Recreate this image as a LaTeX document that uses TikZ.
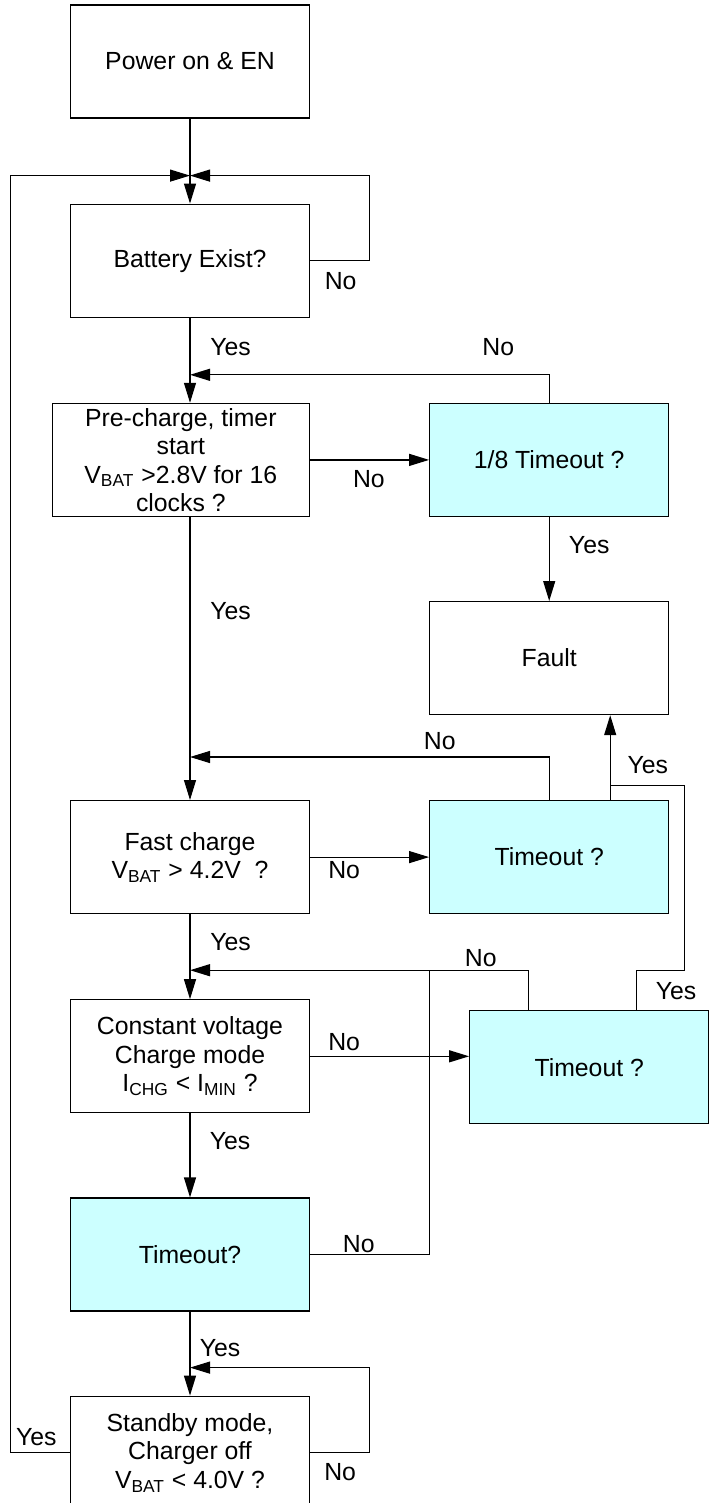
\documentclass[tikz,border=0pt]{standalone}
\usepackage{fontspec}
\setmainfont{Liberation Sans}
\usetikzlibrary{arrows.meta,positioning,calc}
\definecolor{ink}{HTML}{000000}
\definecolor{cyanfill}{HTML}{CCFFFF}
\tikzset{
  box/.style={
    draw=ink, fill=white, line width=0.6pt,
    minimum width=119.5pt, minimum height=56.5pt,
    inner xsep=2pt, inner ysep=0pt,
    align=center, font=\fontsize{12.4pt}{14.25pt}\selectfont
  },
  qbox/.style={box, fill=cyanfill},
  arrow/.style={-{Triangle[length=10pt,width=6pt]}, line width=0.6pt, draw=ink},
  wire/.style={line width=0.6pt, draw=ink},
  lbl/.style={inner sep=0pt, font=\fontsize{12.4pt}{14.25pt}\selectfont}
}

\begin{document}
\begin{tikzpicture}
  \useasboundingbox (0,0) rectangle (354.5pt,-751.5pt);
  % main column
  \node[box] (power) at (95pt,-30.75pt) {Power on \& EN};
  \node[box, below=42.5pt of power] (battery) {Battery Exist?};
  \node[box, minimum width=128.7pt, below=42.5pt of battery.south east, anchor=north east] (pre) {Pre-charge, timer\\start\\V\textsubscript{BAT} >2.8V for 16\\clocks ?};
  \node[box, below=141.5pt of pre.south east, anchor=north east] (fast) {Fast charge\\V\textsubscript{BAT} > 4.2V\ \ ?};
  \node[box, below=42.5pt of fast] (cv) {Constant voltage\\Charge mode\\I\textsubscript{CHG} < I\textsubscript{MIN} ?};
  \node[qbox, below=42pt of cv] (to4) {Timeout?};
  \node[box, below=42pt of to4] (standby) {Standby mode,\\Charger off\\V\textsubscript{BAT} < 4.0V ?};
  % right column
  \node[qbox, right=59.5pt of pre] (t18) {1/8 Timeout ?};
  \node[box, below=42pt of t18] (fault) {Fault};
  \node[qbox, right=59.5pt of fast] (to2) {Timeout ?};
  \node[qbox, right=79.5pt of cv, yshift=-5.5pt] (to3) {Timeout ?};

  % junctions
  \coordinate[above=14pt of battery.north] (j1);
  \coordinate (j2) at ([yshift=14pt]battery.south |- pre.north);
  \coordinate[above=21.5pt of fast.north] (j3);
  \coordinate[above=14.5pt of cv.north] (j4);
  \coordinate[above=14pt of standby.north] (j5);
  \coordinate (yj) at ([xshift=30.5pt,yshift=7.25pt]to2.north);

  % connectors
  \draw[arrow] (power) -- (battery);
  \draw[arrow] (battery.east) -- ++(29.75pt,0) |- (j1);
  \draw[arrow] (standby.west) -- ++(-29.65pt,0) |- (j1);
  \draw[arrow] (battery) -- (battery.south |- pre.north);
  \draw[arrow] (t18.north) |- (j2);
  \draw[arrow] (pre) -- (t18);
  \draw[arrow] (t18) -- (fault);
  \draw[arrow] (fast.north |- pre.south) -- (fast);
  \draw[arrow] (to2.north) |- (j3);
  \draw[arrow] ([xshift=30.5pt]to2.north) -- ([xshift=30.5pt]to2.north |- fault.south);
  \draw[arrow] (fast) -- (to2);
  \draw[arrow] (fast) -- (cv);
  \draw[arrow] ([xshift=29.5pt]to3.north west) |- (j4);
  \draw[wire] ([xshift=83.8pt]to3.north west) |- ([xshift=37.3pt]yj |- j4) |- (yj);
  \draw[arrow] (cv) -- (cv -| to3.west);
  \draw[arrow] (cv) -- (to4);
  \draw[wire] (to4.east) -| (to2.west |- j4);
  \draw[arrow] (to4) -- (standby);
  \draw[arrow] (standby.east) -- ++(29.75pt,0) |- (j5);

  % labels
  \node[lbl] (nobat) at ([shift={(15.25pt,-10.25pt)}]battery.east) {No};
  \node[lbl] (yesbat) at ([shift={(20.25pt,-14.5pt)}]battery.south) {Yes};
  \node[lbl] (not18) at ([shift={(-25.5pt,28pt)}]t18.north) {No};
  \node[lbl] (nopre) at ([shift={(29.4pt,-9.6pt)}]pre.east) {No};
  \node[lbl] (yest18) at ([shift={(20pt,-13.85pt)}]t18.south) {Yes};
  \node[lbl] (yespre) at ([shift={(20.3pt,94.5pt)}]fast.north) {Yes};
  \node[lbl] (noto2) at ([shift={(-54.7pt,29.5pt)}]to2.north) {No};
  \node[lbl] (yesto2) at ([shift={(49.3pt,17.65pt)}]to2.north) {Yes};
  \node[lbl] (nofast) at ([shift={(17pt,-6.5pt)}]fast.east) {No};
  \node[lbl] (yesfast) at ([shift={(20.3pt,-13.7pt)}]fast.south) {Yes};
  \node[lbl] (noto3) at ([shift={(5.8pt,26pt)}]to3.north west) {No};
  \node[lbl] (yesto3) at ([shift={(103.5pt,9.5pt)}]to3.north west) {Yes};
  \node[lbl] (nocv) at ([shift={(17pt,7.25pt)}]cv.east) {No};
  \node[lbl] (yescv) at ([shift={(20pt,-14pt)}]cv.south) {Yes};
  \node[lbl] (noto4) at ([shift={(24.35pt,5.25pt)}]to4.east) {No};
  \node[lbl] (yesto4) at ([shift={(15pt,-18pt)}]to4.south) {Yes};
  \node[lbl] (nostb) at ([shift={(15pt,-9.65pt)}]standby.east) {No};
  \node[lbl] (yesstb) at ([shift={(-16.8pt,7.85pt)}]standby.west) {Yes};
\end{tikzpicture}
\end{document}
